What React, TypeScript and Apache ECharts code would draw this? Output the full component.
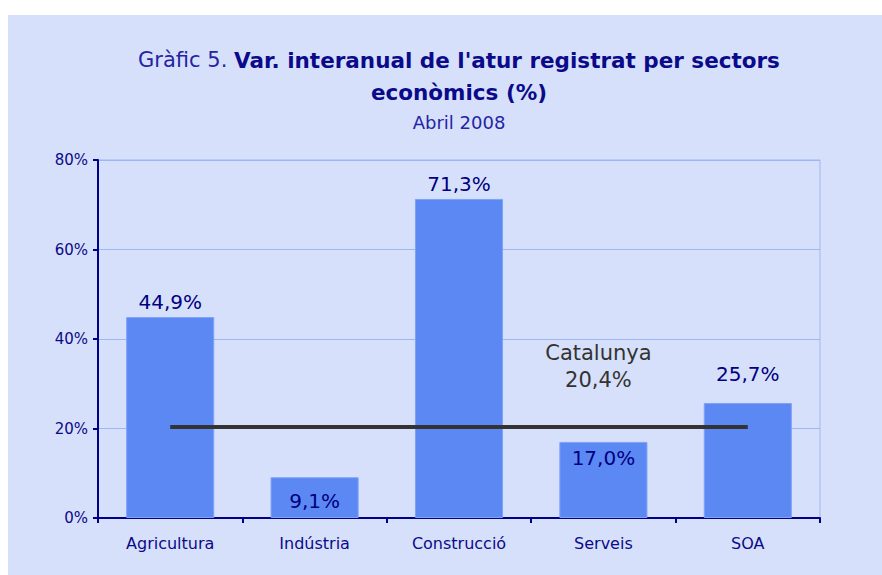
import React, { useEffect, useRef } from "react";
import * as echarts from "echarts";

const categories = ["Agricultura", "Indústria", "Construcció", "Serveis", "SOA"];
const values = [44.9, 9.1, 71.3, 17.0, 25.7];
const catalunyaValue = 20.4;
const catalunyaLabel = "Catalunya";
const yTicks = { min: 0, max: 80, interval: 20 };
const titleLead = "Gràfic 5. ";
const titleMain1 = "Var. interanual de l'atur registrat per sectors";
const titleMain2 = "econòmics (%)";
const subtitle = "Abril 2008";

const FONT = "'DejaVu Sans', 'Liberation Sans', Arial, sans-serif";
const NAVY = "#0a0a8a";

const fmt = (v: number) => v.toFixed(1).replace(".", ",") + "%";

// label placement per bar (style only)
const labelPlacement = [
  { position: "top", distance: 5 },
  { position: "insideTop", distance: 14 },
  { position: "top", distance: 5 },
  { position: "insideTop", distance: 6 },
  { position: "top", distance: 19 },
];

export default function App() {
  const ref = useRef<HTMLDivElement>(null);
  useEffect(() => {
    if (!ref.current) return;
    const chart = echarts.init(ref.current, undefined, { renderer: "svg" });
    chart.setOption({
      animation: false,
      backgroundColor: "#d7e0fa",
      graphic: [
        {
          type: "text",
          x: 451,
          y: 45,
          style: {
            text: `{a|${titleLead}}{b|${titleMain1}}`,
            align: "center",
            verticalAlign: "middle",
            fontFamily: FONT,
            rich: {
              a: { fontFamily: FONT, fontSize: 21, fill: "#2424a4", fontWeight: "normal" },
              b: { fontFamily: FONT, fontSize: 21.5, fill: NAVY, fontWeight: "bold" },
            },
          },
        },
        {
          type: "text",
          x: 451,
          y: 77,
          style: {
            text: titleMain2,
            align: "center",
            verticalAlign: "middle",
            fontFamily: FONT,
            fontSize: 21.5,
            fontWeight: "bold",
            fill: NAVY,
          },
        },
        {
          type: "text",
          x: 451,
          y: 107,
          style: {
            text: subtitle,
            align: "center",
            verticalAlign: "middle",
            fontFamily: FONT,
            fontSize: 18,
            fill: "#2424a4",
          },
        },
      ],
      grid: {
        left: 90,
        top: 145,
        width: 722,
        height: 358,
        show: true,
        borderColor: "#9db6f6",
        borderWidth: 1,
        backgroundColor: "transparent",
      },
      xAxis: {
        type: "category",
        data: categories,
        boundaryGap: true,
        axisLine: { lineStyle: { color: "#000088", width: 2 } },
        axisTick: { show: true, length: 5, alignWithLabel: false, lineStyle: { color: "#000088", width: 2 } },
        axisLabel: { fontFamily: FONT, fontSize: 16, color: NAVY, margin: 17 },
      },
      yAxis: {
        type: "value",
        min: yTicks.min,
        max: yTicks.max,
        interval: yTicks.interval,
        axisLine: { show: true, lineStyle: { color: "#000088", width: 2 } },
        axisTick: { show: true, length: 5, lineStyle: { color: "#000088", width: 2 } },
        axisLabel: { fontFamily: FONT, fontSize: 15, color: NAVY, margin: 10, formatter: (v: number) => v + "%" },
        splitLine: { show: true, lineStyle: { color: "#9db6f6", width: 1 } },
      },
      series: [
        {
          type: "bar",
          barWidth: "61%",
          data: values.map((v, i) => ({
            value: v,
            label: {
              show: true,
              position: labelPlacement[i].position,
              distance: labelPlacement[i].distance,
              formatter: fmt(v),
              fontFamily: FONT,
              fontSize: 20,
              color: "#000080",
            },
          })),
          itemStyle: { color: "#5c88f4", borderColor: "#7fa1f6", borderWidth: 1 },
          markLine: {
            silent: true,
            symbol: "none",
            label: { show: false },
            lineStyle: { color: "#333333", width: 4, type: "solid" },
            data: [[{ coord: [0, catalunyaValue] }, { coord: [categories.length - 1, catalunyaValue] }]],
          },
          markPoint: {
            silent: true,
            symbol: "circle",
            symbolSize: 0,
            data: [{ coord: [3, catalunyaValue] }],
            label: {
              show: true,
              position: "inside",
              offset: [-5, -60],
              formatter: `${catalunyaLabel}\n${fmt(catalunyaValue)}`,
              fontFamily: FONT,
              fontSize: 21,
              lineHeight: 27,
              color: "#333333",
            },
          },
        },
      ],
    });
    return () => chart.dispose();
  }, []);
  return <div ref={ref} style={{ position: "absolute", left: 8, top: 15, width: 874, height: 560 }} />;
}
